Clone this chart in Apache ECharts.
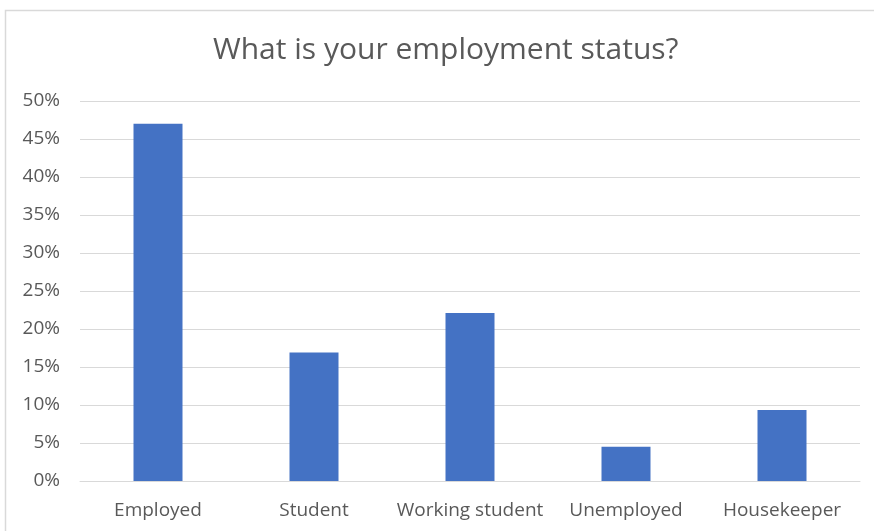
<!DOCTYPE html>
<html>
<head>
<meta charset="utf-8">
<script src="https://cdn.jsdelivr.net/npm/echarts@6/dist/echarts.min.js"></script>
<style>
  html, body { margin: 0; padding: 0; background: #fff; }
  #chart { width: 874px; height: 531px; }
</style>
</head>
<body>
<div id="chart"></div>
<script>
// Survey answers: share of respondents per employment status (percent)
const categories = ['Employed', 'Student', 'Working student', 'Unemployed', 'Housekeeper'];
const shares = [47.0, 16.9, 22.1, 4.5, 9.35];
const yTicks = { min: 0, max: 50, interval: 5 };

const FONT = '"Open Sans", sans-serif';
const chart = echarts.init(document.getElementById('chart'), null, { renderer: 'canvas' });

chart.setOption({
  animation: false,
  backgroundColor: '#ffffff',
  graphic: [{
    type: 'rect',
    shape: { x: 5.5, y: 10.5, width: 1000, height: 1000 },
    style: { fill: 'none', stroke: '#d9d9d9', lineWidth: 1.5 },
    silent: true,
    z: -1
  }],
  title: {
    text: 'What is your employment status?',
    left: 213,
    top: 35,
    padding: 0,
    textStyle: { fontFamily: FONT, fontSize: 30, fontWeight: 'normal', color: '#595959' }
  },
  grid: { left: 80, right: 14, top: 101, bottom: 50, containLabel: false },
  xAxis: {
    type: 'category',
    data: categories,
    axisLine: { show: true, lineStyle: { color: '#d9d9d9', width: 1 } },
    axisTick: { show: false },
    axisLabel: { fontFamily: FONT, fontSize: 19, color: '#595959', margin: 20, interval: 0 }
  },
  yAxis: {
    type: 'value',
    min: yTicks.min,
    max: yTicks.max,
    interval: yTicks.interval,
    axisLine: { show: false },
    axisTick: { show: false },
    splitLine: { lineStyle: { color: '#d9d9d9', width: 1 } },
    axisLabel: {
      fontFamily: FONT, fontSize: 19, color: '#595959', margin: 20,
      formatter: v => v + '%'
    }
  },
  series: [{
    type: 'bar',
    data: shares,
    barWidth: 49,
    itemStyle: { color: '#4472c4' }
  }]
});
</script>
</body>
</html>
